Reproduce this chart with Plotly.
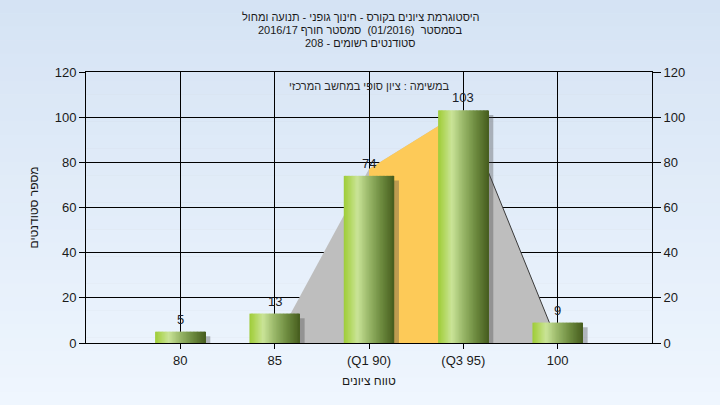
import plotly.graph_objects as go

# ---------------- data ----------------
categories = ["80", "85", "(Q1 90)", "(Q3 95)", "100"]
counts = [5, 13, 74, 103, 9]
y_ticks = [0, 20, 40, 60, 80, 100, 120]
# background distribution outline: category index -> value
outline_x = [1, 2, 3, 4]
outline_y = [0, 77, 103, 0]
q1_index, q3_index = 2, 3

title_lines = [
    "היסטוגרמת ציונים בקורס - חינוך גופני - תנועה ומחול",
    "בסמסטר  (01/2016)  סמסטר חורף 2016/17",
    "סטודנטים רשומים - 208",
]
note_text = "במשימה : ציון סופי במחשב המרכזי"
x_title = "טווח ציונים"
y_title = "מספר סטודנטים"

# ---------------- style ----------------
FONT = "Liberation Sans, Arial, sans-serif"
W, H = 720, 405
ML, MR, MT, MB = 86, 68, 72, 62
PH = H - MT - MB
PW = W - ML - MR

pos = list(range(len(categories)))

def lerp(c1, c2, t):
    return tuple(int(round(a + (b - a) * t)) for a, b in zip(c1, c2))

stops = [(0.0, (158, 204, 58)), (0.08, (172, 212, 80)), (0.27, (202, 228, 152)),
         (0.5, (152, 182, 104)), (0.75, (108, 138, 62)), (1.0, (70, 92, 30))]

def grad(t):
    for (t0, c0), (t1, c1) in zip(stops[:-1], stops[1:]):
        if t0 <= t <= t1:
            return "rgb(%d,%d,%d)" % lerp(c0, c1, (t - t0) / (t1 - t0))
    return "rgb(%d,%d,%d)" % stops[-1][1]

fig = go.Figure()

# background outline polygon (light gray) and inter-quartile part (yellow)
fig.add_trace(go.Scatter(x=outline_x, y=outline_y, fill="toself", mode="none",
                         fillcolor="#bebebe", hoverinfo="skip", showlegend=False))
i1, i3 = outline_x.index(q1_index), outline_x.index(q3_index)
qx = [outline_x[i1], outline_x[i1], outline_x[i3], outline_x[i3]]
qy = [0, outline_y[i1], outline_y[i3], 0]
fig.add_trace(go.Scatter(x=qx, y=qy, fill="toself", mode="none",
                         fillcolor="#fdca58", hoverinfo="skip", showlegend=False))
# right edge line of the outline
fig.add_trace(go.Scatter(x=outline_x[i3:], y=outline_y[i3:], mode="lines",
                         line=dict(color="#3a3a3a", width=1),
                         hoverinfo="skip", showlegend=False))

# bars (on overlaying axis so that they are drawn above the outline)
BW = 0.535
shadow_dx = 0.05
fig.add_trace(go.Bar(x=pos, y=counts, base=[-2.0] * len(counts),
                     width=BW, offset=-BW / 2 + shadow_dx,
                     marker=dict(color="rgba(70,70,70,0.35)", line=dict(width=0)),
                     yaxis="y2", hoverinfo="skip", showlegend=False))
N = 36
sw = BW / N
for i in range(N):
    t = (i + 0.5) / N
    fig.add_trace(go.Bar(x=pos, y=counts, width=sw * (1.6 if i < N - 1 else 1.0),
                         offset=-BW / 2 + i * sw,
                         marker=dict(color=grad(t), line=dict(width=0)),
                         yaxis="y2", hoverinfo="skip", showlegend=False))

# background gradient bands (paper)
nb = 30
top_c, bot_c = (213, 227, 244), (239, 246, 254)
shapes = []
for k in range(nb):
    y0 = 1 + MT / PH - (k + 1) * (H / PH) / nb - 0.0005
    y1 = 1 + MT / PH - k * (H / PH) / nb + 0.0005
    shapes.append(dict(type="rect", xref="paper", yref="paper",
                       x0=-ML / PW, x1=1 + MR / PW, y0=y0, y1=y1,
                       fillcolor="rgb(%d,%d,%d)" % lerp(top_c, bot_c, (k + 0.5) / nb),
                       line=dict(width=0), layer="below"))

annotations = []
# value labels above bars
for p, v in zip(pos, counts):
    annotations.append(dict(x=p, y=v, xref="x", yref="y2", text=str(v), showarrow=False,
                            xanchor="center", yanchor="bottom", yshift=3,
                            font=dict(family=FONT, size=13, color="#1a1e2a")))
for j, line in enumerate(title_lines):
    ypix = 17 + 13 * j
    annotations.append(dict(text=line, xref="paper", yref="paper", x=(360 - ML) / PW,
                            y=(H - MB - ypix) / PH, xanchor="center", yanchor="middle",
                            showarrow=False, font=dict(family=FONT, size=11, color="#1a1a1a")))
annotations.append(dict(text=note_text, xref="paper", yref="paper", x=0.5,
                        y=(H - MB - 86) / PH, xanchor="center", yanchor="middle",
                        showarrow=False, font=dict(family=FONT, size=11, color="#2a2a2a")))
annotations.append(dict(text=x_title, xref="paper", yref="paper", x=0.5,
                        y=(H - MB - 381) / PH, xanchor="center", yanchor="middle",
                        showarrow=False, font=dict(family=FONT, size=12, color="#1a1a1a")))
annotations.append(dict(text=y_title, xref="paper", yref="paper", x=(33 - ML) / PW,
                        y=0.5, xanchor="center", yanchor="middle", textangle=-90,
                        showarrow=False, font=dict(family=FONT, size=12, color="#1a1a1a")))

fig.update_layout(
    width=W, height=H,
    margin=dict(l=ML, r=MR, t=MT, b=MB, pad=0),
    paper_bgcolor="#e2ecf8",
    plot_bgcolor="#b3b3b3",
    barmode="overlay",
    showlegend=False,
    hovermode=False,
    shapes=shapes,
    annotations=annotations,
    xaxis=dict(range=[-1, 5], tickvals=pos, ticktext=categories,
               showgrid=True, gridcolor="#000000", gridwidth=1,
               ticks="outside", ticklen=5, tickcolor="#000000",
               showline=True, linecolor="#000000", linewidth=1, mirror=True,
               zeroline=False, tickfont=dict(family=FONT, size=13, color="#1a1a1a")),
    yaxis=dict(range=[0, 120], tickvals=y_ticks,
               showgrid=True, gridcolor="#000000", gridwidth=1,
               ticks="outside", ticklen=6, tickcolor="#000000",
               showline=True, linecolor="#000000", linewidth=1, mirror=True,
               zeroline=False, tickfont=dict(family=FONT, size=13, color="#1a1a1a")),
    yaxis2=dict(range=[0, 120], tickvals=y_ticks, overlaying="y", side="right",
                showgrid=False, ticks="outside", ticklen=8, tickcolor="#000000",
                showline=False, zeroline=False,
                tickfont=dict(family=FONT, size=13, color="#1a1a1a")),
)

fig.write_html("out.html", config={"displayModeBar": False},
               post_script="document.body.style.margin='0';document.body.style.overflow='hidden';")
